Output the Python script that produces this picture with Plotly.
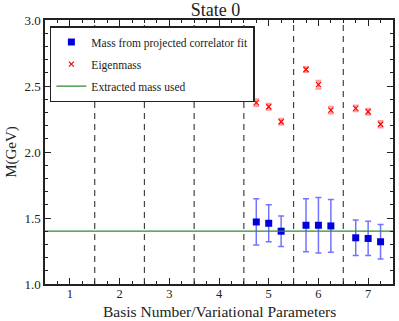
import plotly.graph_objects as go

# Data
basis_positions = [4.75, 5.0, 5.25, 5.75, 6.0, 6.25, 6.75, 7.0, 7.25]
proj_mass = [1.47, 1.46, 1.40, 1.445, 1.445, 1.44, 1.35, 1.345, 1.32]
proj_err = [0.175, 0.14, 0.115, 0.20, 0.21, 0.20, 0.135, 0.13, 0.13]
eigen_mass = [2.374, 2.343, 2.229, 2.625, 2.51, 2.317, 2.33, 2.305, 2.21]
eigen_err = [0.025, 0.022, 0.022, 0.018, 0.03, 0.025, 0.022, 0.022, 0.025]
extracted_mass = 1.40
dividers = [1.5, 2.5, 3.5, 4.5, 5.5, 6.5]
x_ticks = [1, 2, 3, 4, 5, 6, 7]
x_range = [0.5, 7.5]
y_range = [1.0, 3.0]
y_ticks = [1.0, 1.5, 2.0, 2.5, 3.0]
x_title = "Basis Number/Variational Parameters"
y_title = "M(GeV)"
chart_title = "State 0"

FONT = "Liberation Serif"
INK = "#222222"

fig = go.Figure()

fig.add_trace(go.Scatter(
    x=basis_positions, y=proj_mass, mode="markers",
    name="Mass from projected correlator fit",
    legendgroup="a",
    marker=dict(symbol="square", size=7, color="#0000dd"),
    error_y=dict(type="data", array=proj_err, color="rgba(40,40,255,0.65)",
                 thickness=1.5, width=3),
))
fig.add_trace(go.Scatter(
    x=basis_positions, y=eigen_mass, mode="markers",
    name="Eigenmass",
    legendgroup="b",
    marker=dict(symbol="x-thin", size=5, color="red",
                line=dict(color="red", width=1.2)),
    error_y=dict(type="data", array=eigen_err, color="rgba(255,60,60,0.5)",
                 thickness=2, width=3),
))
fig.add_trace(go.Scatter(
    x=x_range, y=[extracted_mass, extracted_mass], mode="lines",
    name="Extracted mass used",
    legendgroup="c",
    line=dict(color="#2e8b2e", width=1.2),
))

for d in dividers:
    fig.add_shape(type="line", xref="x", yref="paper", x0=d, x1=d, y0=0, y1=1,
                  line=dict(color="#444444", width=1.2, dash="6px,5px"), layer="below")

axis_common = dict(
    showline=True, linecolor=INK, linewidth=1.5, mirror="allticks",
    ticks="inside", tickcolor=INK, showgrid=False, zeroline=False,
    automargin=False,
)

fig.update_xaxes(
    range=x_range, tickvals=x_ticks, ticklen=6, ticklabelstandoff=-3,
    tickfont=dict(family=FONT, size=12.5, color=INK),
    minor=dict(dtick=0.25, tick0=0, ticklen=3, ticks="inside", tickcolor=INK, showgrid=False),
    **axis_common,
)
fig.update_yaxes(
    range=y_range, tickvals=y_ticks, ticktext=[f"{v:.1f}" for v in y_ticks], ticklen=6,
    tickfont=dict(family=FONT, size=13, color=INK),
    minor=dict(dtick=0.1, tick0=0, ticklen=3, ticks="inside", tickcolor=INK, showgrid=False),
    title=dict(text=y_title, font=dict(family=FONT, size=15, color=INK), standoff=4),
    **axis_common,
)

fig.add_annotation(text=x_title, xref="paper", yref="paper", x=0.5, y=-0.066,
                   xanchor="center", yanchor="top", showarrow=False,
                   font=dict(family=FONT, size=15.5, color=INK))

fig.update_layout(
    width=399, height=321,
    margin=dict(l=45, r=6, t=20, b=37),
    paper_bgcolor="white", plot_bgcolor="white",
    font=dict(family=FONT, color=INK),
    title=dict(text=chart_title, x=0.54, xanchor="center", y=0.99, yanchor="top",
               font=dict(family=FONT, size=18, color=INK)),
    legend=dict(x=0.014, y=0.977, xanchor="left", yanchor="top",
                bgcolor="white", bordercolor=INK, borderwidth=1.5,
                font=dict(family=FONT, size=11.5, color=INK),
                tracegroupgap=3),
    showlegend=True,
)

fig.write_html("out.html", post_script="document.body.style.margin='0';",
               config={"displayModeBar": False})
